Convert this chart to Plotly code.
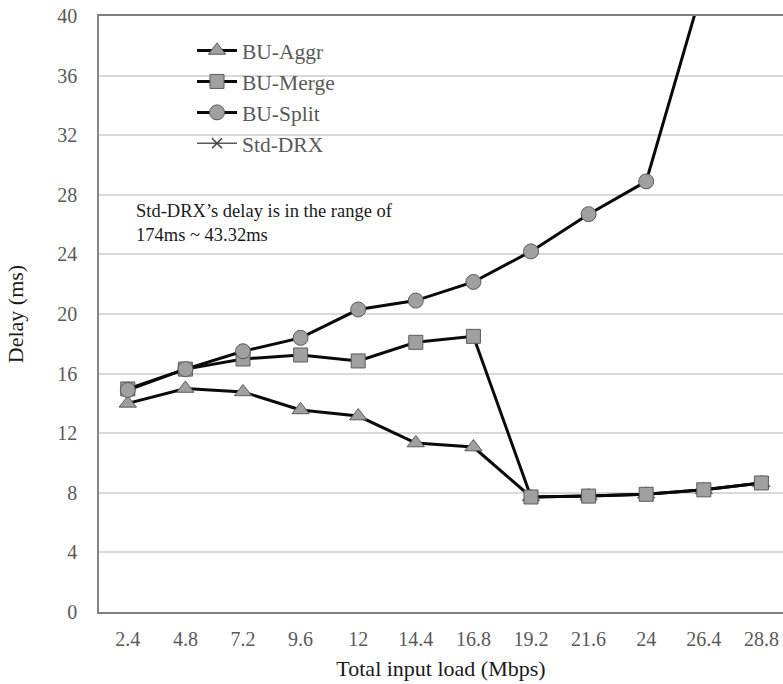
import plotly.graph_objects as go

categories = ["2.4", "4.8", "7.2", "9.6", "12", "14.4", "16.8", "19.2", "21.6", "24", "26.4", "28.8"]
bu_aggr = [14.0, 15.0, 14.77, 13.56, 13.15, 11.34, 11.07, 7.72, 7.78, 7.9, 8.2, 8.66]
bu_merge = [14.97, 16.3, 16.98, 17.25, 16.85, 18.1, 18.5, 7.72, 7.78, 7.9, 8.2, 8.66]
bu_split = [14.9, 16.3, 17.5, 18.4, 20.3, 20.9, 22.15, 24.2, 26.7, 28.9, 42.2, None]
std_drx = [None] * 12
y_ticks = [0, 4, 8, 12, 16, 20, 24, 28, 32, 36, 40]

xi = list(range(len(categories)))
serif = "Liberation Serif, Times New Roman, serif"
mfill = "#a0a0a0"
mline = dict(color="#5a5a5a", width=1)

PW, PH, L, T = 684, 596, 99, 16


def px_x(p):
    return (p - L) / PW


def px_y(p):
    return (T + PH - p) / PH


fig = go.Figure()
fig.add_trace(go.Scatter(x=xi, y=bu_aggr, name="BU-Aggr", mode="lines+markers",
                         line=dict(color="#0a0a0a", width=3),
                         marker=dict(symbol="triangle-up", size=15, color=mfill, line=mline)))
fig.add_trace(go.Scatter(x=xi, y=bu_merge, name="BU-Merge", mode="lines+markers",
                         line=dict(color="#0a0a0a", width=3),
                         marker=dict(symbol="square", size=14, color=mfill, line=mline)))
fig.add_trace(go.Scatter(x=xi, y=bu_split, name="BU-Split", mode="lines+markers",
                         line=dict(color="#0a0a0a", width=3),
                         marker=dict(symbol="circle", size=15, color=mfill, line=mline)))
fig.add_trace(go.Scatter(x=xi, y=std_drx, name="Std-DRX", mode="lines+markers",
                         line=dict(color="#595959", width=1.5),
                         marker=dict(symbol="x-thin", size=10, color="#404040",
                                     line=dict(color="#404040", width=1.5))))

# white legend box area (covers gridlines like the original)
fig.add_shape(type="rect", xref="paper", yref="paper",
              x0=px_x(155), x1=px_x(371), y0=px_y(165), y1=px_y(22),
              fillcolor="white", line=dict(width=0), layer="between")

fig.add_annotation(xref="paper", yref="paper", x=px_x(134), y=px_y(199),
                   xanchor="left", yanchor="top", align="left", showarrow=False,
                   text="Std-DRX’s delay is in the range of<br>174ms ~ 43.32ms",
                   font=dict(family=serif, size=18.5, color="#1a1a1a"))

fig.update_layout(
    width=783, height=684,
    margin=dict(l=L, r=0, t=T, b=684 - T - PH),
    paper_bgcolor="white", plot_bgcolor="white",
    font=dict(family=serif, size=20, color="#595959"),
    legend=dict(x=px_x(192), y=px_y(30), xanchor="left", yanchor="top",
                bgcolor="rgba(255,255,255,0)", font=dict(family=serif, size=21.5, color="#595959"),
                itemwidth=40, tracegroupgap=0),
    xaxis=dict(range=[-0.5, 11.375], tickmode="array", tickvals=xi, ticktext=categories,
               showgrid=False, zeroline=False, showline=True, mirror=True,
               linecolor="#7f7f7f", linewidth=2, ticks="", ticklabelstandoff=8,
               tickfont=dict(family=serif, size=20, color="#595959"),
               title=dict(text="Total input load (Mbps)", standoff=12,
                          font=dict(family=serif, size=22, color="#1a1a1a"))),
    yaxis=dict(range=[0, 40], tickmode="array", tickvals=y_ticks,
               showgrid=True, gridcolor="#d9d9d9", gridwidth=1.5, zeroline=False,
               showline=True, linecolor="#868686", linewidth=1.5, ticks="",
               ticklabelstandoff=16,
               tickfont=dict(family=serif, size=20, color="#595959"),
               title=dict(text="Delay (ms)", standoff=28,
                          font=dict(family=serif, size=22, color="#1a1a1a"))),
)

fig.write_html("out.html")
